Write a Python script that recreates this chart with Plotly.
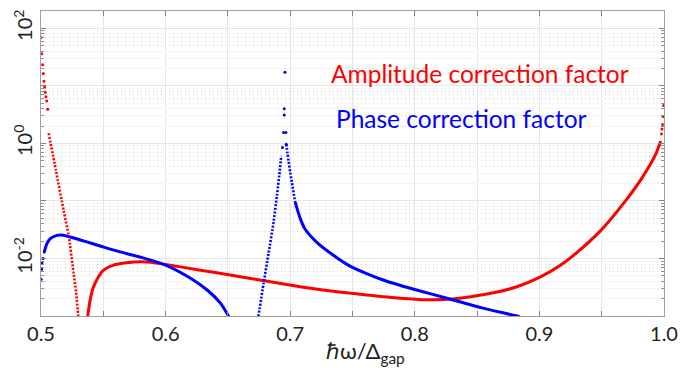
import plotly.graph_objects as go

# ---------------- data ----------------
red_tail_x = [0.5, 0.50056, 0.50136, 0.50184, 0.5024, 0.50296, 0.50344, 0.504, 0.50456, 0.50536]
red_tail_y = [69.1, 36.1, 23.3, 16.3, 12.0, 9.57, 7.75, 6.43, 5.42, 3.90]

red_drop_x = [0.50616, 0.512, 0.51816, 0.52216, 0.52616, 0.52824, 0.52984, 0.5304]
red_drop_y = [1.50, 0.335, 0.0682, 0.0252, 0.00557, 0.00252, 0.00105, 0.0009]

red_main_x = [0.5374, 0.53944, 0.54216, 0.54616, 0.55016, 0.55816, 0.5688, 0.58, 0.588,
              0.6, 0.628, 0.64936, 0.672, 0.708, 0.7344, 0.76136, 0.788, 0.80936, 0.8304,
              0.852, 0.868, 0.88136, 0.9, 0.916, 0.92664, 0.94936, 0.96936, 0.98264, 0.99336, 0.99736]
red_main_y = [0.00095, 0.00191, 0.00323, 0.00481, 0.00628, 0.00766, 0.00839, 0.00873, 0.00857,
              0.00787, 0.00625, 0.00525, 0.00436, 0.00323, 0.00269, 0.00232, 0.00204, 0.00192, 0.00198,
              0.00230, 0.00267, 0.00319, 0.00470, 0.00741, 0.0110, 0.0308, 0.102, 0.257, 0.650, 1.10]

red_end_x = [0.998, 0.9984, 0.9988, 0.9992, 0.9996]
red_end_y = [1.46, 1.78, 2.13, 2.93, 4.53]

blue_start_x = [0.5, 0.50056, 0.5008, 0.5016, 0.50264]
blue_start_y = [0.00434, 0.00646, 0.00839, 0.0100, 0.0130]

blue_left_x = [0.50264, 0.5048, 0.50744, 0.5128, 0.51816, 0.52344, 0.5368, 0.55016, 0.56344,
               0.58, 0.6, 0.62, 0.63336, 0.644, 0.65064]
blue_left_y = [0.0130, 0.0182, 0.0221, 0.0252, 0.0252, 0.0236, 0.0194, 0.0158, 0.0130,
               0.0105, 0.00766, 0.00452, 0.00283, 0.00167, 0.00098]

blue_rise_x = [0.674, 0.67864, 0.68264, 0.68664, 0.68936, 0.6912, 0.6928]
blue_rise_y = [0.00085, 0.00370, 0.0122, 0.0429, 0.124, 0.275, 0.608]

blue_peak_x = [0.69384, 0.69464, 0.6952, 0.6952, 0.69576, 0.69656, 0.6968]
blue_peak_y = [0.846, 1.54, 3.11, 3.99, 17.2, 1.54, 0.968]

blue_fall_dot_x = [0.6968, 0.69784, 0.69864, 0.7, 0.70136, 0.704]
blue_fall_dot_y = [0.968, 0.677, 0.499, 0.313, 0.210, 0.0950]

blue_fall_x = [0.704, 0.708, 0.712, 0.72136, 0.73464, 0.748, 0.76136, 0.77464, 0.788, 0.80136,
               0.828, 0.85464, 0.884]
blue_fall_y = [0.0950, 0.0497, 0.0321, 0.0191, 0.0114, 0.00736, 0.00546, 0.00422, 0.00342, 0.00283,
               0.00198, 0.00137, 0.00098]

x_ticks = [0.5, 0.55, 0.6, 0.65, 0.7, 0.75, 0.8, 0.85, 0.9, 0.95, 1.0]
x_labels = ["0.5", "", "0.6", "", "0.7", "", "0.8", "", "0.9", "", "1.0"]
y_ticks = [1e-3, 1e-2, 1e-1, 1e0, 1e1, 1e2]
y_labels = ["", "10<sup>-2</sup>", "", "10<sup>0</sup>", "", "10<sup>2</sup>"]
y_minor = [m * 10.0 ** e for e in range(-3, 3) for m in range(2, 10)]

legend_labels = ["Amplitude correction factor", "Phase correction factor"]

RED = "#ff0000"
BLUE = "#0000ff"
FONT = "Lato"

fig = go.Figure()

def dots(x, y, c):
    fig.add_trace(go.Scatter(x=x, y=y, mode="markers", marker=dict(color=c, size=3),
                             hoverinfo="skip", showlegend=False, cliponaxis=True))

def dotted(x, y, c):
    fig.add_trace(go.Scatter(x=x, y=y, mode="lines",
                             line=dict(color=c, width=2.6, dash="2px,1.6px", shape="spline", smoothing=0.6),
                             hoverinfo="skip", showlegend=False))

def solid(x, y, c):
    fig.add_trace(go.Scatter(x=x, y=y, mode="lines",
                             line=dict(color=c, width=3, shape="spline", smoothing=0.7),
                             hoverinfo="skip", showlegend=False))

dots(red_tail_x, red_tail_y, RED)
dotted(red_drop_x, red_drop_y, RED)
solid(red_main_x, red_main_y, RED)
dots(red_end_x, red_end_y, RED)

dots(blue_start_x, blue_start_y, BLUE)
solid(blue_left_x, blue_left_y, BLUE)
dotted(blue_rise_x, blue_rise_y, BLUE)
dots(blue_peak_x, blue_peak_y, BLUE)
dotted(blue_fall_dot_x, blue_fall_dot_y, BLUE)
solid(blue_fall_x, blue_fall_y, BLUE)

axis_common = dict(showline=True, linecolor="#a0a0a0", linewidth=1, mirror="ticks",
                   ticks="inside", ticklen=5, tickcolor="#808080", tickwidth=1,
                   gridcolor="#e6e6e6", gridwidth=1, zeroline=False,
                   tickfont=dict(family=FONT, size=20, color="#222222"))

fig.update_xaxes(range=[0.5, 1.0], tickmode="array", tickvals=x_ticks, ticktext=x_labels,
                 showgrid=True, **axis_common)
fig.update_yaxes(type="log", range=[-3, 2.3], tickmode="array", tickvals=y_ticks, ticktext=y_labels,
                 tickangle=-90, showgrid=True,
                 minor=dict(tickmode="array", tickvals=y_minor, ticks="inside", ticklen=3,
                            tickcolor="#909090", showgrid=True, gridcolor="#d6d6d6",
                            griddash="1px,3px", gridwidth=1),
                 **axis_common)

fig.add_annotation(xref="paper", yref="paper", x=0.462, y=0.794, xanchor="left", yanchor="middle",
                   text=legend_labels[0], showarrow=False,
                   font=dict(family=FONT, size=24.5, color=RED))
fig.add_annotation(xref="paper", yref="paper", x=0.470, y=0.648, xanchor="left", yanchor="middle",
                   text=legend_labels[1], showarrow=False,
                   font=dict(family=FONT, size=24.5, color=BLUE))
fig.add_annotation(xref="paper", yref="paper", x=0.5216, y=-0.118, xanchor="center", yanchor="middle",
                   text="ℏω/Δ<sub>gap</sub>", showarrow=False,
                   font=dict(family=FONT, size=22, color="#222222"))

fig.update_layout(width=688, height=370, margin=dict(l=40, r=23, t=10, b=54, pad=0),
                  plot_bgcolor="white", paper_bgcolor="white", showlegend=False)

fig.write_html("out.html")
